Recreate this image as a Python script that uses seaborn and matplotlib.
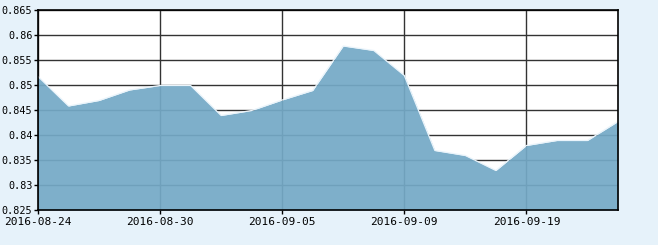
import matplotlib
matplotlib.use("Agg")
import matplotlib.pyplot as plt
import seaborn as sns
import pandas as pd
import numpy as np

dates = ["2016-08-24", "2016-08-25", "2016-08-26", "2016-08-29", "2016-08-30",
         "2016-08-31", "2016-09-01", "2016-09-02", "2016-09-05", "2016-09-06",
         "2016-09-07", "2016-09-08", "2016-09-09", "2016-09-12", "2016-09-13",
         "2016-09-14", "2016-09-19", "2016-09-20", "2016-09-21", "2016-09-22"]
values = [0.8517, 0.8458, 0.8469, 0.8490, 0.8499,
          0.8499, 0.8439, 0.8449, 0.8470, 0.8489,
          0.8578, 0.8569, 0.8519, 0.8369, 0.8359,
          0.8329, 0.8379, 0.8389, 0.8389, 0.8427]
xtick_labels = ["2016-08-24", "2016-08-30", "2016-09-05", "2016-09-09", "2016-09-19"]
yticks = [0.825, 0.83, 0.835, 0.84, 0.845, 0.85, 0.855, 0.86, 0.865]
ytick_labels = ["0.825", "0.83", "0.835", "0.84", "0.845", "0.85", "0.855", "0.86", "0.865"]

df = pd.DataFrame({"idx": np.arange(len(dates)), "date": dates, "value": values})

sns.set_style("white")
plt.rcParams["font.family"] = ["DejaVu Sans Mono"]

W, H = 658, 245
fig = plt.figure(figsize=(W / 100, H / 100), dpi=100)
fig.patch.set_facecolor("#E6F2FA")
ax = fig.add_axes([38 / W, 1 - 210 / H, 580 / W, 200 / H])
ax.set_facecolor("white")

ax.set_xlim(0, len(dates) - 1)
ax.set_ylim(0.825, 0.865)

xt = [dates.index(d) for d in xtick_labels]
ax.set_xticks(xt)
ax.set_xticklabels(xtick_labels, fontsize=8)
ax.set_yticks(yticks)
ax.set_yticklabels(ytick_labels, fontsize=7.3)

ax.grid(True, color="#333333", linewidth=1.0)
ax.set_axisbelow(True)

ax.fill_between(df["idx"], df["value"], 0.825, color="#74A9C6", alpha=0.93, linewidth=0, zorder=2)
sns.lineplot(data=df, x="idx", y="value", ax=ax, color="#EAF4FB", linewidth=0.9, zorder=3)

ax.set_xlabel("")
ax.set_ylabel("")
for s in ax.spines.values():
    s.set_color("black")
    s.set_linewidth(1.2)
    s.set_zorder(5)
ax.tick_params(axis="both", direction="out", length=3, width=1, color="black",
               labelcolor="black", bottom=True, left=True)
ax.tick_params(axis="y", pad=1)
ax.tick_params(axis="x", pad=2)

fig.savefig("out.png", dpi=100, facecolor=fig.get_facecolor())
